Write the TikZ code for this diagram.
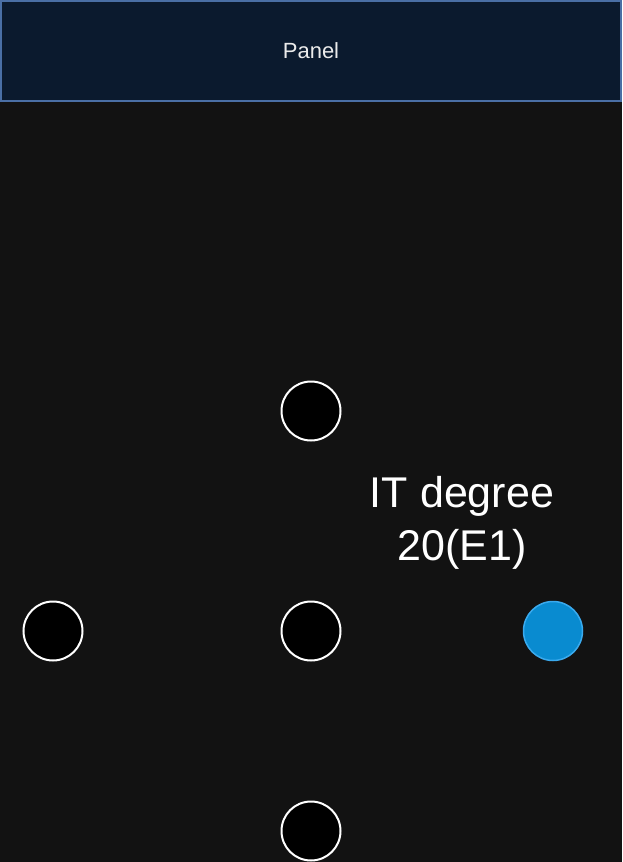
\documentclass[tikz,border=0pt]{standalone}
\usepackage{fontspec}
\setmainfont{Liberation Sans}
\definecolor{bgc}{HTML}{121212}
\definecolor{panelfill}{HTML}{0B1A2E}
\definecolor{panelline}{HTML}{4A6FA5}
\definecolor{bluefill}{HTML}{098BD0}
\definecolor{blueline}{HTML}{3AAAEE}
\begin{document}
\begin{tikzpicture}[x=1pt,y=-1pt,
  dot/.style={circle,draw=white,fill=black,line width=2pt,minimum size=59pt,inner sep=0pt},
  bluedot/.style={circle,draw=blueline,fill=bluefill,line width=1.5pt,minimum size=59pt,inner sep=0pt}]
\fill[bgc] (0,0) rectangle (622,862);
\useasboundingbox (0,0) rectangle (622,862);
\node[draw=panelline,fill=panelfill,line width=1.5pt,minimum width=620pt,minimum height=100pt,inner sep=0pt,
  font=\fontsize{22}{26}\selectfont,text=white!92!black] (panel) at (311,51) {Panel};
\node[dot] (top) at (311,411) {};
\node[dot] (left) at (53,631) {};
\node[dot] (mid) at (311,631) {};
\node[bluedot] (right) at (553,631) {};
\node[dot] (bot) at (311,831) {};
\node[text=white,align=center,font=\fontsize{43}{53}\selectfont,inner sep=0pt,anchor=base] (lbl) at (462,560) {IT degree\\20(E1)};
\end{tikzpicture}
\end{document}
